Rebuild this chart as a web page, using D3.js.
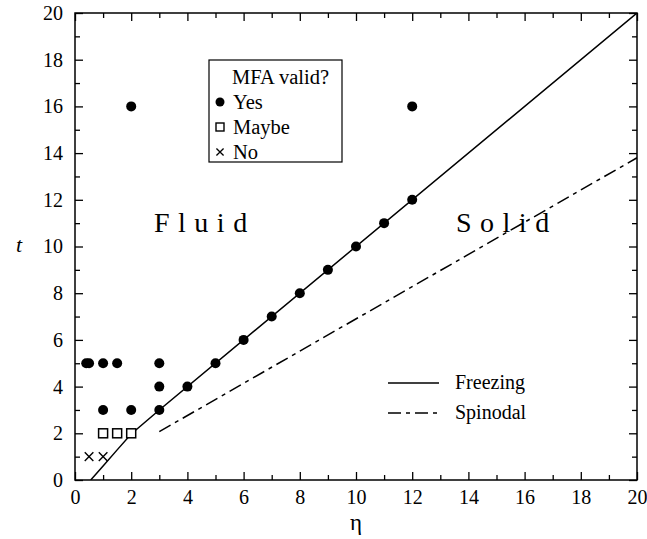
<!DOCTYPE html>
<html><head><meta charset="utf-8">
<script src="https://cdn.jsdelivr.net/npm/d3@7"></script>
<style>
html,body{margin:0;padding:0;background:#fff;}
svg text{font-family:"Liberation Serif","Times New Roman","DejaVu Serif",serif !important;fill:#000;}
</style></head>
<body>
<svg id="chart" width="647" height="539"></svg>
<script>
// ---- data ----
const yesEta = [0.4, 0.5, 1, 1.5, 3, 1, 2, 3, 3, 4, 5, 6, 7, 8, 9, 10, 11, 12, 2, 12];
const yesT   = [5, 5, 5, 5, 5, 3, 3, 3, 4, 4, 5, 6, 7, 8, 9, 10, 11, 12, 16, 16];
const maybeEta = [1, 1.5, 2];
const maybeT   = [2, 2, 2];
const noEta = [0.5, 1];
const noT   = [1, 1];
const freezeEta = [0.56, 1, 1.5, 2, 3, 20];
const freezeT   = [0, 0.6, 1.29, 1.97, 3, 20];
const spinEta = [3, 20];
const spinT   = [2.07, 13.8];
const xTicks = [0, 2, 4, 6, 8, 10, 12, 14, 16, 18, 20];
const yTicks = [0, 2, 4, 6, 8, 10, 12, 14, 16, 18, 20];
const minorTicks = d3.range(0, 21, 1);

// ---- layout ----
const FONT = "'Liberation Serif', 'Times New Roman', 'DejaVu Serif', serif";
const L = 75, R = 637, T = 13, B = 480;
const svg = d3.select("#chart").attr("font-family", FONT);
const x = d3.scaleLinear().domain([0, 20]).range([L, R]);
const y = d3.scaleLinear().domain([0, 20]).range([B, T]);

svg.append("clipPath").attr("id", "clip").append("rect")
  .attr("x", L).attr("y", T).attr("width", R - L).attr("height", B - T);

function styleAxis(g) {
  g.attr("font-family", FONT);
  g.select(".domain").remove();
  g.selectAll("line").attr("stroke", "#000").attr("stroke-width", 1.3);
  g.selectAll("text").attr("font-size", 20).attr("fill", "#000").attr("font-family", FONT);
}
const odd = minorTicks.filter(d => d % 2);
// bottom
svg.append("g").attr("transform", `translate(0,${B})`)
  .call(d3.axisBottom(x).tickValues(xTicks).tickSizeInner(-8).tickSizeOuter(0).tickPadding(10).tickFormat(d3.format("d")))
  .call(styleAxis);
svg.append("g").attr("transform", `translate(0,${B})`)
  .call(d3.axisBottom(x).tickValues(odd).tickSize(-5).tickFormat("")).call(styleAxis);
// top
svg.append("g").attr("transform", `translate(0,${T})`)
  .call(d3.axisTop(x).tickValues(xTicks).tickSize(-8).tickFormat("")).call(styleAxis);
svg.append("g").attr("transform", `translate(0,${T})`)
  .call(d3.axisTop(x).tickValues(odd).tickSize(-5).tickFormat("")).call(styleAxis);
// left
svg.append("g").attr("transform", `translate(${L},0)`)
  .call(d3.axisLeft(y).tickValues(yTicks).tickSizeInner(-8).tickSizeOuter(0).tickPadding(12).tickFormat(d3.format("d")))
  .call(styleAxis);
svg.append("g").attr("transform", `translate(${L},0)`)
  .call(d3.axisLeft(y).tickValues(odd).tickSize(-5).tickFormat("")).call(styleAxis);
// right
svg.append("g").attr("transform", `translate(${R},0)`)
  .call(d3.axisRight(y).tickValues(yTicks).tickSize(-8).tickFormat("")).call(styleAxis);
svg.append("g").attr("transform", `translate(${R},0)`)
  .call(d3.axisRight(y).tickValues(odd).tickSize(-5).tickFormat("")).call(styleAxis);

// frame
svg.append("rect").attr("x", L).attr("y", T).attr("width", R - L).attr("height", B - T)
  .attr("fill", "none").attr("stroke", "#000").attr("stroke-width", 1.5);

// axis titles
svg.append("text").attr("x", (L + R) / 2).attr("y", 530).attr("text-anchor", "middle")
  .attr("font-size", 23).text("η");
svg.append("text").attr("x", 19).attr("y", 252).attr("text-anchor", "middle")
  .attr("font-size", 22).attr("font-style", "italic").text("t");

// lines
const lineGen = d3.line().x(d => x(d[0])).y(d => y(d[1]));
const plot = svg.append("g").attr("clip-path", "url(#clip)");
plot.append("path").datum(freezeEta.map((e, i) => [e, freezeT[i]]))
  .attr("d", lineGen).attr("fill", "none").attr("stroke", "#000").attr("stroke-width", 1.5);
plot.append("path").datum(spinEta.map((e, i) => [e, spinT[i]]))
  .attr("d", lineGen).attr("fill", "none").attr("stroke", "#000").attr("stroke-width", 1.5)
  .attr("stroke-dasharray", "13,5,4,5");

// points
svg.append("g").selectAll("circle").data(yesEta.map((e, i) => [e, yesT[i]])).join("circle")
  .attr("cx", d => x(d[0])).attr("cy", d => y(d[1])).attr("r", 5).attr("fill", "#000");
svg.append("g").selectAll("rect").data(maybeEta.map((e, i) => [e, maybeT[i]])).join("rect")
  .attr("x", d => x(d[0]) - 4.5).attr("y", d => y(d[1]) - 4.5).attr("width", 9).attr("height", 9)
  .attr("fill", "#fff").attr("stroke", "#000").attr("stroke-width", 1.5);
const cross = d3.symbol().type(d3.symbolX).size(50);
svg.append("g").selectAll("path").data(noEta.map((e, i) => [e, noT[i]])).join("path")
  .attr("transform", d => `translate(${x(d[0])},${y(d[1])})`).attr("d", cross)
  .attr("fill", "none").attr("stroke", "#000").attr("stroke-width", 1.4);

// region labels
svg.append("text").attr("x", 154).attr("y", 232).attr("font-size", 28)
  .attr("letter-spacing", 8.5).text("Fluid");
svg.append("text").attr("x", 456).attr("y", 232).attr("font-size", 28)
  .attr("letter-spacing", 8.5).text("Solid");

// legend box
const lg = svg.append("g");
lg.append("rect").attr("x", 209).attr("y", 60).attr("width", 133).attr("height", 102)
  .attr("fill", "#fff").attr("stroke", "#000").attr("stroke-width", 1.2);
lg.append("text").attr("x", 232).attr("y", 84).attr("font-size", 20.5).text("MFA valid?");
lg.append("circle").attr("cx", 220).attr("cy", 102).attr("r", 4.5).attr("fill", "#000");
lg.append("text").attr("x", 233).attr("y", 109).attr("font-size", 20.5).text("Yes");
lg.append("rect").attr("x", 216).attr("y", 123).attr("width", 8).attr("height", 8)
  .attr("fill", "#fff").attr("stroke", "#000").attr("stroke-width", 1.4);
lg.append("text").attr("x", 233).attr("y", 134).attr("font-size", 20.5).text("Maybe");
lg.append("path").attr("transform", "translate(220,152)").attr("d", d3.symbol().type(d3.symbolX).size(35))
  .attr("fill", "none").attr("stroke", "#000").attr("stroke-width", 1.3);
lg.append("text").attr("x", 233).attr("y", 159).attr("font-size", 20.5).text("No");

// line legend
svg.append("line").attr("x1", 388).attr("x2", 439).attr("y1", 383).attr("y2", 383)
  .attr("stroke", "#000").attr("stroke-width", 1.5);
svg.append("text").attr("x", 455).attr("y", 389).attr("font-size", 20).text("Freezing");
svg.append("line").attr("x1", 388).attr("x2", 439).attr("y1", 413).attr("y2", 413)
  .attr("stroke", "#000").attr("stroke-width", 1.5).attr("stroke-dasharray", "13,5,4,5");
svg.append("text").attr("x", 455).attr("y", 419).attr("font-size", 20).text("Spinodal");
</script>
</body></html>
